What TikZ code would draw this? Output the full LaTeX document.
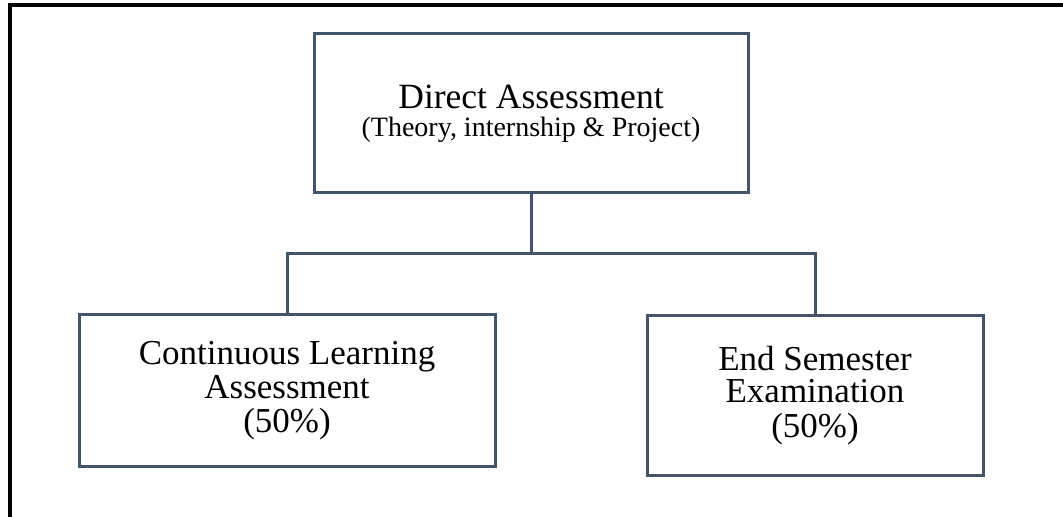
\documentclass[tikz,border=0pt]{standalone}
\usepackage{fontspec}
\setmainfont{Liberation Serif}
\usetikzlibrary{calc,positioning}
\definecolor{boxline}{RGB}{68,84,106}
\setlength{\lineskiplimit}{-20pt}

\begin{document}
\begin{tikzpicture}[x=0.5pt,y=-0.5pt,
    box/.style={draw=boxline, line width=1.5pt, align=center, inner sep=0pt},
    link/.style={draw=boxline, line width=1.5pt}]
    \useasboundingbox (0,0) rectangle (1063,517);
    \draw[line width=2pt] (9.5,517) -- (9.5,5.5) -- (1063,5.5);

    \node[box, minimum width=217pt, minimum height=79.5pt,
          font=\fontsize{17.75}{12.5}\selectfont] (direct) at (531,113.5)
          {Direct Assessment\\[1.5pt] {\fontsize{14}{14}\selectfont (Theory, internship \& Project)}};
    \node[box, minimum width=208pt, minimum height=75.5pt,
          font=\fontsize{17.5}{17}\selectfont] (cla) at (287,390.5)
          {Continuous Learning\\Assessment\\(50\%)};
    \node[box, minimum width=168pt, minimum height=79.5pt,
          font=\fontsize{17.5}{16}\selectfont] (ese) at (815,395.5)
          {End Semester\\Examination\\[1.5pt](50\%)};

    \coordinate (split) at (531,254);
    \draw[link] (direct.south) -- (split);
    \draw[link] (cla.north) |- (split) -| (ese.north);
\end{tikzpicture}
\end{document}
